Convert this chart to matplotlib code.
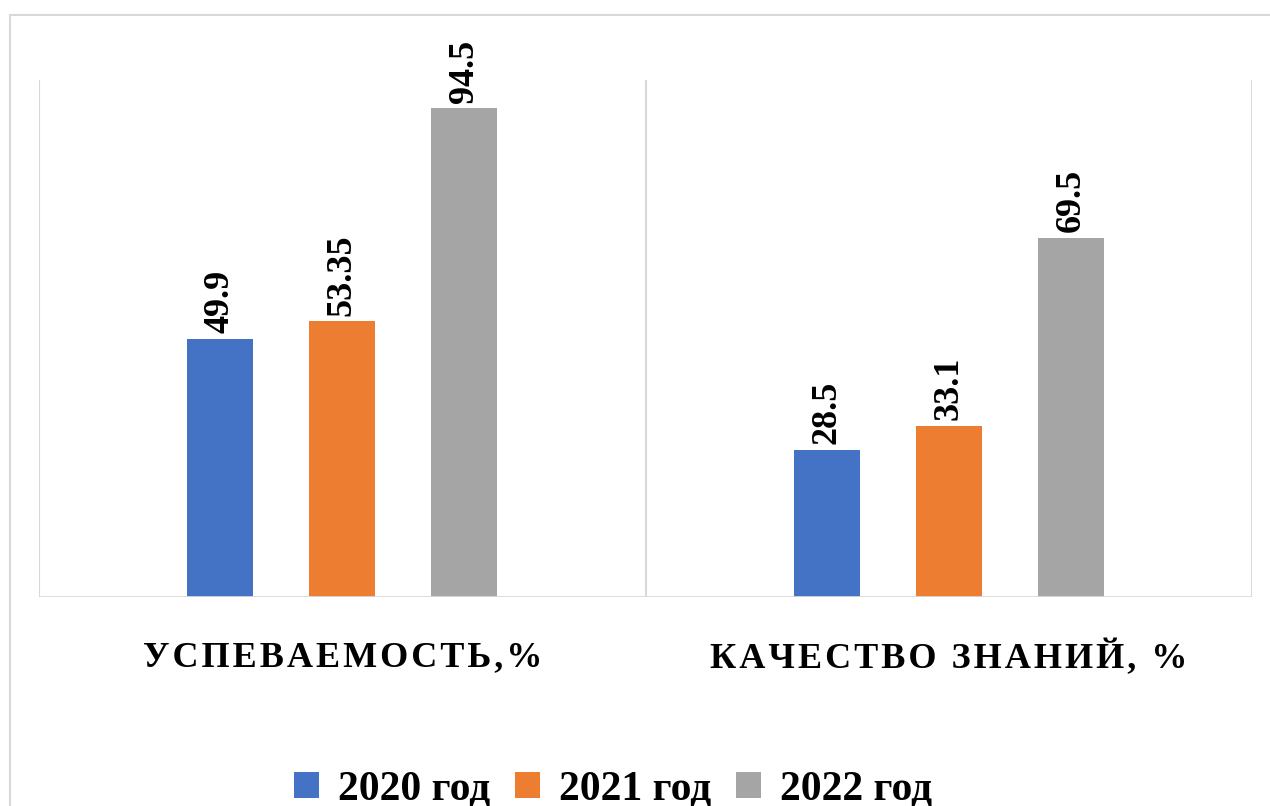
import matplotlib.pyplot as plt
import matplotlib.transforms as mtransforms
from matplotlib.patches import Rectangle
import numpy as np

# Данные
categories = ['УСПЕВАЕМОСТЬ,%', 'КАЧЕСТВО ЗНАНИЙ, %']
years = ['2020 год', '2021 год', '2022 год']
v2020 = [49.9, 28.5]
v2021 = [53.35, 33.1]
v2022 = [94.5, 69.5]
colors = ['#4472C4', '#ED7D31', '#A5A5A5']

plt.rcParams['font.family'] = ['Liberation Serif', 'DejaVu Serif']

fig = plt.figure(figsize=(12.7, 8.06), dpi=100)
fig.patch.set_facecolor('white')

# Внешняя рамка диаграммы
fig.patches.append(Rectangle((10 / 1270, -0.1), 1.2, 1 - 15 / 806 + 0.1,
                             transform=fig.transFigure, fill=False,
                             edgecolor='#d9d9d9', linewidth=1.5))

ax = fig.add_axes([39 / 1270, 1 - 597 / 806, (1252 - 39) / 1270, (597 - 80) / 806])
ax.set_facecolor('white')

x = np.arange(len(categories))
step = 0.2013
width = 0.109
series = [v2020, v2021, v2022]
for i, (vals, lab, col) in enumerate(zip(series, years, colors)):
    bars = ax.bar(x + (i - 1) * step, vals, width=width, color=col, label=lab, zorder=3)
    for b, v in zip(bars, vals):
        ax.annotate(f'{v:g}', (b.get_x() + b.get_width() / 2, b.get_height()),
                    xytext=(0, 4), textcoords='offset points', rotation=90,
                    ha='center', va='bottom', fontsize=26, fontweight='bold')

ax.set_xlim(-0.5, 1.5)
ax.set_ylim(0, 100)
for s in ax.spines.values():
    s.set_visible(False)
for xv in [-0.5, 0.5, 1.5]:
    ax.axvline(xv, color='#d9d9d9', linewidth=1.5, zorder=1)
ax.axhline(0, color='#d9d9d9', linewidth=2, zorder=4)
ax.set_xticks([])
ax.set_yticks([])

# Подписи категорий с разрядкой
trans = mtransforms.blended_transform_factory(ax.transData, fig.transFigure)
for xi, cat in zip(x, categories):
    spaced = '\u200a'.join(cat)
    ax.text(xi, 1 - 658 / 806, spaced, transform=trans,
            ha='center', va='center', fontsize=26, fontweight='bold')

fig.legend(loc='center', bbox_to_anchor=(0.483, 0.02), ncol=3, frameon=False,
           prop={'size': 30, 'weight': 'bold'}, handlelength=0.6, handleheight=0.6,
           handletextpad=0.45, columnspacing=0.6)

fig.savefig('out.png', dpi=100, facecolor='white')
